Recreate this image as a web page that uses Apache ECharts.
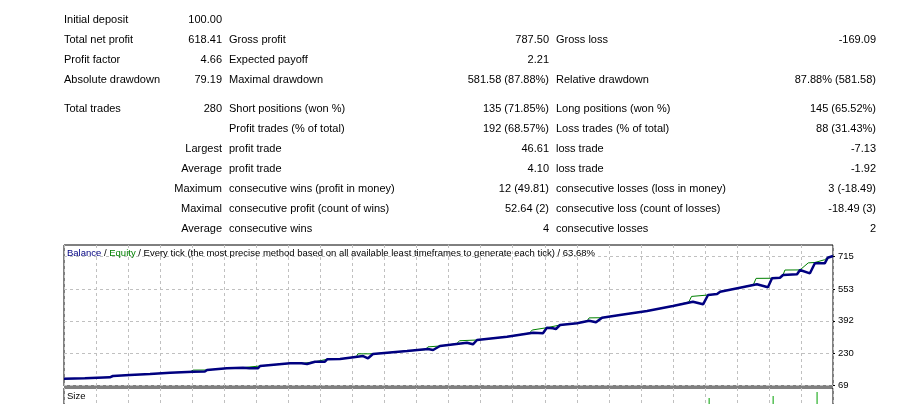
<!DOCTYPE html>
<html lang="en">
<head>
    <meta charset="UTF-8">
    <title>Strategy Tester Report</title>
    <script src="https://cdn.jsdelivr.net/npm/echarts@6/dist/echarts.min.js"></script>
    <style>
        body { margin: 0; background: #fff; }
        #main { width: 900px; height: 404px; }
    </style>
</head>
<body>
<div id="main"></div>
<script>
    // report table, one array per column
    var labelsA = ['Initial deposit', 'Total net profit', 'Profit factor', 'Absolute drawdown', 'Total trades', '', '', '', '', '', ''];
    var valuesA = ['100.00', '618.41', '4.66', '79.19', '280', '', 'Largest', 'Average', 'Maximum', 'Maximal', 'Average'];
    var labelsB = ['', 'Gross profit', 'Expected payoff', 'Maximal drawdown', 'Short positions (won %)', 'Profit trades (% of total)',
        'profit trade', 'profit trade', 'consecutive wins (profit in money)', 'consecutive profit (count of wins)', 'consecutive wins'];
    var valuesB = ['', '787.50', '2.21', '581.58 (87.88%)', '135 (71.85%)', '192 (68.57%)', '46.61', '4.10', '12 (49.81)', '52.64 (2)', '4'];
    var labelsC = ['', 'Gross loss', '', 'Relative drawdown', 'Long positions (won %)', 'Loss trades (% of total)',
        'loss trade', 'loss trade', 'consecutive losses (loss in money)', 'consecutive loss (count of losses)', 'consecutive losses'];
    var valuesC = ['', '-169.09', '', '87.88% (581.58)', '145 (65.52%)', '88 (31.43%)', '-7.13', '-1.92', '3 (-18.49)', '-18.49 (3)', '2'];

    // balance / equity curve, by trade number
    var balanceTrades = [0, 7.6, 16.7, 17.8, 24, 31.3, 38.6, 47, 51.3, 52.1, 59.3, 65.2, 67.5, 70.6, 71.4, 82.3, 86.5, 88.5, 91.4,
        95, 95.8, 100.5, 108.9, 110.7, 112.5, 124.9, 132.5, 134.4, 136.9, 146.7, 148.9, 150.4, 161.3, 170.8, 174.4, 175.8,
        178, 179.1, 180.6, 186.8, 191.2, 193.7, 195.9, 202.4, 212.3, 221.7, 229, 232.7, 234.5, 237.8, 238.9, 246.1,
        252.3, 256.3, 257.8, 260.7, 261.8, 266.9, 268, 271.6, 273.4, 277, 278.1, 280];
    var balanceValues = [100, 102.7, 107.8, 114.3, 119.4, 124.4, 130.9, 136, 137, 144.5, 153.1, 156, 153.5, 153, 164.7, 178.3, 178.5, 174.7, 186.3,
        186.5, 198.4, 199.9, 215, 203.4, 225, 240.2, 250, 245.2, 265.4, 282, 273.9, 295.6, 312.2, 332.3, 329.3, 357.5,
        354.5, 351, 371.1, 379.7, 392.8, 384.7, 407.9, 421.5, 441.6, 466.8, 488.4, 475.3, 522.2, 527.2, 538.8, 558.9,
        576, 560.9, 606.2, 609.3, 622.9, 626.4, 648, 631.4, 681.8, 681.8, 710, 718.41];
    var equityTrades = [0, 7.6, 16, 17.8, 24, 31.3, 38.6, 46, 47, 52.1, 59.3, 64.5, 65.2, 71.4, 82.3, 87.5, 88, 91.4, 95.8, 100.5,
        106.5, 107, 112.5, 124.9, 131.5, 132.5, 136.9, 143, 144, 150.4, 161.3, 169.5, 170.5, 175.8, 180.6, 186.8, 190.5, 191.2,
        195.9, 202.4, 212.3, 221.7, 227.5, 228.5, 234.5, 237.8, 238.9, 246.1, 251, 252, 257.8, 260.7, 261.8, 262.5, 268,
        271, 273.4, 277, 278.1, 280];
    var equityValues = [100, 102.7, 108, 114.3, 119.4, 124.4, 130.9, 135.5, 144, 144.5, 153.1, 155.8, 164, 164.7, 178.3, 179, 186, 186.3, 198.4, 199.9,
        212, 226, 226, 240.2, 247, 261, 265.4, 277, 292, 295.6, 312.2, 331, 346, 357.5, 371.1, 379.7, 392, 407,
        407.9, 421.5, 441.6, 466.8, 487, 515, 522.2, 527.2, 538.8, 558.9, 574, 606, 606.5, 609.3, 622.9, 648, 648.5,
        684, 686, 700, 712, 718.41];

    // lot size panel (only the tallest bars reach into view)
    var sizeTrades = [234.9, 258.2, 274.2];
    var sizeLots = [0.62, 0.69, 0.85];

    var yTickLabels = [69, 230, 392, 553, 715];

    var FONT = 'Liberation Sans, Arial, sans-serif';
    var rowY = [20, 40, 60, 80, 109, 129, 149, 169, 189, 209, 229];

    function pairs(xs, ys) {
        return xs.map(function (x, i) { return [x, ys[i]]; });
    }

    var graphics = [];
    function addText(txt, x, y, align, size) {
        if (!txt) return;
        graphics.push({
            type: 'text', x: x, y: y, silent: true,
            style: { text: txt, fill: '#000', fontSize: size || 11, fontFamily: FONT, align: align, verticalAlign: 'middle' }
        });
    }
    rowY.forEach(function (y, i) {
        addText(labelsA[i], 64, y, 'left');
        addText(valuesA[i], 222, y, 'right');
        addText(labelsB[i], 229, y, 'left');
        addText(valuesB[i], 549, y, 'right');
        addText(labelsC[i], 556, y, 'left');
        addText(valuesC[i], 876, y, 'right');
    });
    addText('Size', 67, 396, 'left', 9.5);

    var dashed = { show: true, lineStyle: { color: '#c0c0c0', type: [3, 3], width: 1 } };

    var chart = echarts.init(document.getElementById('main'));
    var option = {
        animation: false,
        backgroundColor: '#fff',
        title: {
            text: '{b|Balance} / {g|Equity} / Every tick (the most precise method based on all available least timeframes to generate each tick) / 63.68%',
            left: 64, top: 246, padding: [2, 3],
            textStyle: {
                fontSize: 9.5, fontWeight: 'normal', color: '#000', fontFamily: FONT,
                rich: {
                    b: { color: '#000080', fontSize: 9.5, fontFamily: FONT },
                    g: { color: '#008000', fontSize: 9.5, fontFamily: FONT }
                }
            }
        },
        graphic: graphics,
        grid: [
            { left: 64, right: 67, top: 245, bottom: 18, outerBoundsMode: 'none', show: true, borderColor: '#000', borderWidth: 1, backgroundColor: 'transparent' },
            { left: 64, right: 67, top: 388, bottom: -10, outerBoundsMode: 'none', show: true, borderColor: '#000', borderWidth: 1, backgroundColor: 'transparent' }
        ],
        xAxis: [
            { type: 'value', gridIndex: 0, min: 0, max: 280, interval: 11.67, axisLine: { show: false, onZero: false }, axisTick: { show: false }, axisLabel: { show: false }, splitLine: dashed },
            { type: 'value', gridIndex: 1, min: 0, max: 280, interval: 11.67, axisLine: { show: false, onZero: false }, axisTick: { show: false }, axisLabel: { show: false }, splitLine: dashed }
        ],
        yAxis: [
            {
                type: 'value', gridIndex: 0, position: 'right', min: 64, max: 774,
                axisLine: { show: false, onZero: false },
                axisTick: { show: true, length: 2, lineStyle: { color: '#000' }, customValues: yTickLabels },
                axisLabel: { show: true, margin: 5, color: '#000', fontSize: 9.5, fontFamily: FONT, customValues: yTickLabels },
                splitLine: dashed
            },
            {
                type: 'value', gridIndex: 1, min: 0, max: 1,
                axisLine: { show: false, onZero: false }, axisTick: { show: false }, axisLabel: { show: false }, splitLine: { show: false }
            }
        ],
        series: [
            {
                name: 'Equity', type: 'line', xAxisIndex: 0, yAxisIndex: 0, symbol: 'none',
                lineStyle: { color: '#008000', width: 1 }, data: pairs(equityTrades, equityValues)
            },
            {
                name: 'Balance', type: 'line', xAxisIndex: 0, yAxisIndex: 0, symbol: 'none',
                lineStyle: { color: '#000080', width: 2.5 }, data: pairs(balanceTrades, balanceValues)
            },
            {
                name: 'Size', type: 'bar', xAxisIndex: 1, yAxisIndex: 1, barWidth: 1,
                itemStyle: { color: '#00a000' }, data: pairs(sizeTrades, sizeLots)
            }
        ]
    };
    chart.setOption(option);
</script>
</body>
</html>
